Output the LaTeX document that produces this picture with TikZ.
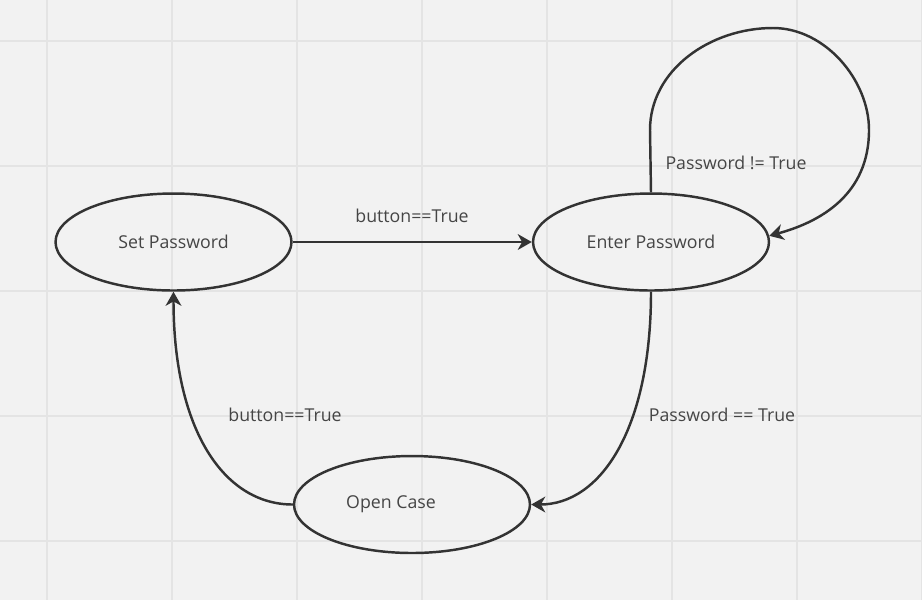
\documentclass[tikz,border=0pt]{standalone}
\usepackage{fontspec}
\setmainfont{Open Sans}
\usetikzlibrary{shapes.geometric,arrows.meta}
\definecolor{bg}{HTML}{F2F2F2}
\definecolor{gridc}{HTML}{E4E4E4}
\definecolor{ink}{HTML}{333333}
\definecolor{txt}{HTML}{454545}
\begin{document}
\begin{tikzpicture}[x=0.02cm,y=-0.02cm,
    state/.style={draw=ink,line width=1.4pt,ellipse,minimum width=4.72cm,minimum height=1.94cm,inner sep=0pt,text=txt,font=\fontsize{10.1}{12}\selectfont},
    lbl/.style={text=txt,inner sep=0pt,font=\fontsize{10.1}{12}\selectfont},
    conn/.style={draw=ink,line width=1.4pt,-{Stealth[length=8pt,width=9pt,inset=2.5pt]}}]
    \fill[bg] (0,0) rectangle (922,600);
    \useasboundingbox (0,0) rectangle (922,600);
    \foreach \x in {47,172,...,922} \draw[gridc,line width=0.6pt] (\x,0)--(\x,600);
    \foreach \y in {41,166,...,600} \draw[gridc,line width=0.6pt] (0,\y)--(922,\y);
    \node[state] (setpw) at (173.5,242) {Set Password};
    \node[state] (enterpw) at (651,242) {Enter Password};
    \node[state] (opencase) at (412,504.5) {Open Case\hspace*{0.84cm}};
    \draw[conn] (setpw) -- (enterpw);
    \draw[conn] (enterpw.south) .. controls (651,430) and (600,504.5) .. (opencase.east);
    \draw[conn] (opencase.west) .. controls (224,504.5) and (173.5,430) .. (setpw.south);
    \draw[conn] (enterpw.north) -- (650,130) .. controls (650,70) and (710,28) .. (773,28)
        .. controls (825,28) and (869,80) .. (869,130) .. controls (869,195) and (820,222) .. (enterpw.3);
    \node[lbl] (btn1) at (412,216) {button==True};
    \node[lbl] (pwnot) at (736,163) {Password != True};
    \node[lbl] (btn2) at (285,415) {button==True};
    \node[lbl] (pweq) at (722,415) {Password == True};
\end{tikzpicture}
\end{document}
